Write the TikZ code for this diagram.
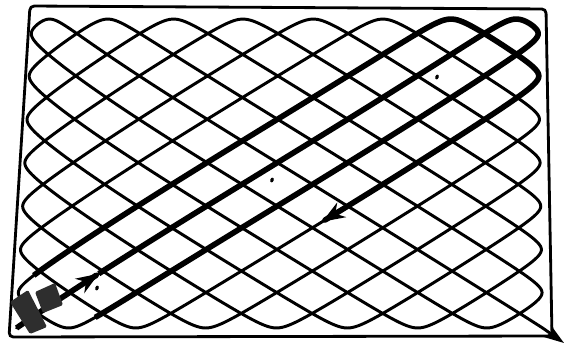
\documentclass[tikz,border=0pt]{standalone}
\usetikzlibrary{arrows.meta,shapes.geometric}
\begin{document}
\begin{tikzpicture}[x=0.05cm, y=-0.05cm,
  declare function={
    tri(\a)=asin(0.9962*sin(\a))/asin(0.9962);
    gu(\i)=(1-tri(90+0.9*\i))/2;
    gv(\i)=(1+tri(90+0.96*\i))/2;
    gy(\i)=19+309*gv(\i);
    gx(\i)=(32-0.05*309*gv(\i))+gu(\i)*(506+0.065*309*gv(\i))-(110-60*gv(\i))*gu(\i)*(1-gu(\i))^3;
  },
  bord/.style={line width=4pt, rounded corners=6pt},
  trace/.style={line width=4.2pt, line join=round, line cap=round},
  retour/.style={line width=8pt, line join=round},
  pointe/.style={-{Stealth[length=32pt, width=24pt]}},
  base/.style={fill=black!82, rounded corners=2pt},
  dot/.style={fill, ellipse, inner sep=0pt, minimum width=5pt, minimum height=7pt, rotate=-20}]
\useasboundingbox (0,0) rectangle (566,349);
% border of the lawn
\draw[bord] (30,6) -- (546,9) -- (552,336) -- (9,337) -- cycle;
% mowing track
\draw[trace] plot[variable=\i, domain=0:3000, samples=3001] ({gx(\i)},{gy(\i)});
\coordinate (fin) at ({gx(3000)},{gy(3000)});
\coordinate (sortie) at (564,343);
\draw[line width=4.2pt, -{Stealth[length=30pt, width=20pt]}] (fin) -- (sortie);
% first run, drawn heavy
\draw[retour, pointe] plot[variable=\i, domain=0:36, samples=37] ({gx(\i)},{gy(\i)});
\draw[retour] plot[variable=\i, domain=36:365, samples=330] ({gx(\i)},{gy(\i)});
\draw[retour, pointe] plot[variable=\i, domain=410:684, samples=275] ({gx(\i)},{gy(\i)});
% station
\fill[base] (10,302) -- (28,290) -- (47,327) -- (30,334) -- cycle;
\fill[base] (35,292) -- (55,283) -- (63,305) -- (43,313) -- cycle;
% marks
\node[dot] (m1) at (437,77) {};
\node[dot] (m2) at (272,180) {};
\node[dot] (m3) at (97,288) {};
\end{tikzpicture}
\end{document}
